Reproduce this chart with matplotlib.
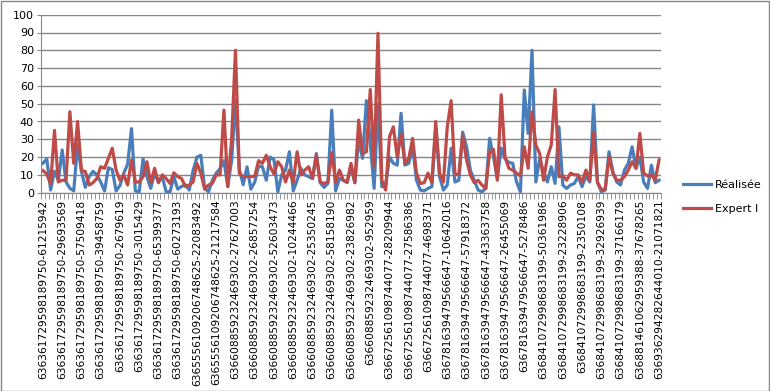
"""Réalisée vs Expert I line chart"""
import numpy
from matplotlib import pyplot as plt
from matplotlib.patches import Rectangle

TICK_LABELS = [
    "636361729598189750-61215942",
    "636361729598189750-29693569",
    "636361729598189750-57509418",
    "636361729598189750-39458759",
    "636361729598189750-2679619",
    "636361729598189750-3015429",
    "636361729598189750-65399377",
    "636361729598189750-60273193",
    "6365556109206748625-22083492",
    "6365556109206748625-21217584",
    "636608859232469302-27627003",
    "636608859232469302-26857254",
    "636608859232469302-52603473",
    "636608859232469302-10244466",
    "636608859232469302-25350245",
    "636608859232469302-58158190",
    "636608859232469302-23826982",
    "636608859232469302-952959",
    "636672561098744077-28209944",
    "636672561098744077-27586386",
    "636672561098744077-4698371",
    "636781639479566647-10642016",
    "636781639479566647-57918372",
    "636781639479566647-43363758",
    "636781639479566647-26455069",
    "636781639479566647-5278486",
    "636841072998683199-50361986",
    "636841072998683199-23228906",
    "636841072998683199-2350108",
    "636841072998683199-32926939",
    "636841072998683199-37166179",
    "636881461062959388-37678265",
    "636936294282644010-21071821",
]
LABEL_EVERY = 5

REALISEE = [
    16.5, 19, 1.5, 12, 7, 24, 6, 2.5, 1, 27,
    12, 3, 9, 12, 10, 6, 1, 14, 13, 1,
    4, 11, 16, 36, 1, 0.5, 19, 9, 2.5, 11,
    6, 9, 0.5, 0.5, 9, 2, 3.5, 4.5, 1.5, 12.5,
    20, 21, 2.5, 0.5, 7, 11, 13.5, 18, 3.5, 18,
    52, 13, 4.5, 14.5, 2, 6, 15, 14.6, 7, 20,
    18.5, 0.5, 10, 12.7, 23, 1, 7, 13.7, 10, 9,
    8, 22, 5.6, 3, 5.2, 46.4, 1, 8, 7, 5.6,
    14.6, 5.6, 30, 19.3, 51.7, 27.7, 2.4, 50, 3.4, 4.3,
    20, 16.5, 15.5, 44.6, 15.5, 16.5, 25.8, 7, 1.5, 1,
    2.4, 3.4, 36, 9, 1.5, 4.3, 25, 6, 7, 34,
    25.8, 12.7, 7, 1.5, 0.5, 2.4, 30.5, 20.2, 8, 25,
    19, 17, 16.5, 6, 0.5, 57.7, 33.3, 80, 6, 19.3,
    11.8, 6, 14.6, 5.2, 37, 4.3, 2.4, 4.3, 5.2, 9,
    3.4, 9.4, 6, 49.3, 6, 0.5, 1.5, 23, 11.8, 6,
    4.3, 12.7, 16.5, 25.8, 13.7, 20, 6, 2.4, 15.5, 5.6,
    7,
]

EXPERT = [
    12.4, 10.5, 5, 35, 6, 7, 7, 45.5, 16.5, 40,
    12.4, 12, 4.3, 5.6, 8, 14.6, 13.7, 19.3, 25, 12.7,
    7, 10, 4.3, 18.4, 6, 6, 9, 17.4, 5.6, 13.7,
    5.6, 10, 8, 5.2, 11.2, 9, 8, 3.4, 4.3, 6,
    16.5, 10.9, 2, 4.3, 5.2, 10, 10, 46.4, 3.4, 30,
    80, 11, 9, 9, 9, 9.2, 18, 16.5, 21, 14.6,
    10.5, 17.4, 14.6, 6, 12.7, 5.6, 23, 10, 12.7, 14.6,
    8, 21, 6, 5.2, 6, 22.5, 6, 12.7, 7, 6,
    16.5, 5.6, 40.8, 22, 23, 58, 14.6, 89.5, 7, 1.5,
    31.5, 37, 20, 33, 16.5, 19.3, 30.5, 11, 5.2, 5.6,
    11, 5.6, 40, 11, 6, 37, 51.7, 10, 10.5, 32,
    18.4, 10, 5.6, 7, 4.3, 2.4, 23, 24.3, 7, 55,
    20, 13.7, 12.7, 11, 9.4, 25.8, 13.7, 45.5, 26.8, 22,
    7, 20, 26.8, 58, 9, 9.4, 7, 11, 10, 10,
    6, 12.7, 7, 33.7, 5.6, 1.9, 1.9, 20, 11, 7,
    7, 9, 12.7, 17.4, 13.7, 33.3, 11, 9.4, 10, 7,
    18.4,
]

BLUE = "#4a7ebb"
RED = "#be4b48"
GRID = "#868686"
W, H = 770, 391


def style_axes(ax, n):
    """Excel-like axes: gray grid, ticks and labels"""
    ax.set_xlim(-0.5, n - 0.5)
    ax.set_ylim(0, 100)
    ax.set_yticks(numpy.arange(0, 101, 10))
    ax.yaxis.grid(True, color=GRID, linewidth=1)
    ax.set_axisbelow(True)
    for side in ("top", "right"):
        ax.spines[side].set_visible(False)
    for side in ("left", "bottom"):
        ax.spines[side].set_color(GRID)
    ax.tick_params(axis="y", colors=GRID, length=3, labelcolor="black",
                   labelsize=8, pad=2)

    positions = numpy.arange(0, n, LABEL_EVERY)[: len(TICK_LABELS)]
    ax.set_xticks(positions)
    ax.set_xticklabels(TICK_LABELS, rotation=90, fontsize=7.7, va="top")
    ax.tick_params(axis="x", which="major", length=0, pad=5)
    ax.set_xticks(numpy.arange(n + 1) - 0.5, minor=True)
    ax.tick_params(axis="x", which="minor", length=4, color=GRID)


fig = plt.figure(figsize=(W / 100, H / 100), dpi=100)
ax = fig.add_axes([41 / W, 1 - 192.7 / H, 620 / W, 178 / H])

x = numpy.arange(len(REALISEE))
ax.plot(x, REALISEE, color=BLUE, linewidth=2.3, label="Réalisée",
        solid_joinstyle="round")
ax.plot(x, EXPERT, color=RED, linewidth=2.3, label="Expert I",
        solid_joinstyle="round")
style_axes(ax, len(REALISEE))

fig.legend(loc="upper left", bbox_to_anchor=(677 / W, 1 - 174 / H),
           frameon=False, fontsize=8, handlelength=2.6, handletextpad=0.3,
           labelspacing=1.3, borderpad=0)

# chart area border
fig.patches.append(Rectangle((0.5 / W, 0.5 / H), (W - 1.5) / W, (H - 1.5) / H,
                             transform=fig.transFigure, fill=False,
                             edgecolor=GRID, linewidth=1))

fig.savefig("out.png", dpi=100)
